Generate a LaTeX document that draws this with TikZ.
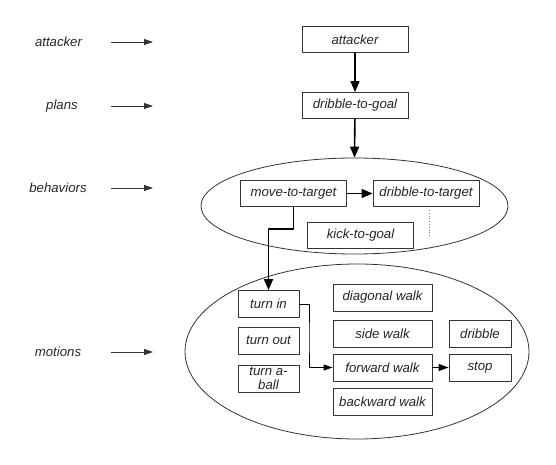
\documentclass[tikz,border=0pt]{standalone}
\usepackage{fontspec}
\setmainfont{Liberation Sans}
\usetikzlibrary{shapes.geometric,arrows.meta}
\newcommand\lblfont{\fontsize{13.2}{13.7}\selectfont\itshape}
\tikzset{
	box/.style={draw=black!80,line width=0.8pt,minimum width=106pt,minimum height=26pt,inner sep=0pt,align=center},
	mbox/.style={box,minimum height=27pt},
	layer/.style={draw=black!80,line width=0.8pt,ellipse,inner sep=0pt},
	heavy/.style={->,line width=1.6pt},
	smalltip/.style={>={Triangle[length=9pt,width=6pt]}},
}
\begin{document}
\begin{tikzpicture}[x=1pt,y=-1pt,line join=round,>={Triangle[length=11pt,width=9pt]},font=\lblfont,text=black!85]
	\useasboundingbox (0,0) rectangle (556,465);
	% layers
	\node[layer,minimum width=307pt,minimum height=96pt] (behav) at (354.5,206) {};
	\node[layer,minimum width=344pt,minimum height=175pt] (motion) at (357,351.5) {};
	% level names on the left
	\foreach \n/\x/\y/\t in {latt/58.5/42/attacker,lplan/62/106/plans,lbeh/58/188/behaviors,lmot/58/352/motions}{
		\node (\n) at (\x,\y) {\t};
		\coordinate (\n s) at (111,\y);
		\coordinate (\n e) at (153,\y);
		\draw[->,smalltip,line width=0.8pt,black!80] (\n s) -- (\n e);}
	% upper boxes
	\node[box] (attacker) at (355,39.5) {attacker};
	\node[box] (dgoal) at (355,105.5) {dribble-to-goal};
	\node[box] (move) at (293.5,193.5) {move-to-target};
	\node[box] (dtarget) at (426,193.5) {dribble-to-target};
	\node[box] (kick) at (360.5,235) {kick-to-goal};
	% motions
	\foreach \n/\x/\y/\w/\t in {turnin/268.5/304/61/turn in,turnout/268.5/340.5/61/turn out,turnaball/268.5/378.5/61/{turn a-\\ball},
		diag/382.5/297.5/99/diagonal walk,side/382.5/333.5/99/side walk,forward/382.5/367.5/99/forward walk,backward/382.5/402/99/backward walk,
		dribble/480/333.5/62/dribble,stop/480/367.5/62/stop}
	{\node[mbox,minimum width=\w pt] (\n) at (\x,\y) {\t};}
	\draw[heavy] (attacker) -- (dgoal);
	\draw[heavy] (dgoal) -- (behav.north);
	\draw[heavy] (move) -- (dtarget);
	\coordinate (bend1) at (281,229);
	\draw[heavy] (move.south) |- (bend1) -| (turnin.north);
	\coordinate (bend2) at (309,340);
	\draw[->,smalltip,line width=1pt] (turnin.east) -| (bend2) |- (forward.west);
	\draw[->,line width=1.2pt,>={Triangle[length=10pt,width=7pt]}] (forward) -- (stop);
	\coordinate (dots1) at (429,210);
	\coordinate (dots2) at (429,237);
	\draw[dotted,gray,line width=0.8pt] (dots1) -- (dots2);
\end{tikzpicture}
\end{document}
